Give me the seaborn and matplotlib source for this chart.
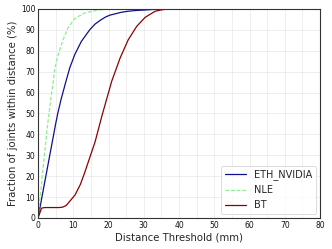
import matplotlib
matplotlib.use("Agg")
import matplotlib.pyplot as plt
import seaborn as sns
import pandas as pd
from matplotlib.ticker import MultipleLocator

eth_x = [0, 1, 2, 3, 4, 5, 5.6, 6.5, 7.7, 9, 10.4, 12.3, 14.7, 16.2, 17.5, 19, 20.3, 23.6, 25.5, 28, 30.4, 33, 36, 80]
eth_y = [0, 9, 18, 27, 36, 45, 50, 56.5, 64, 71.8, 78.1, 84.5, 90.1, 92.8, 94.4, 96, 97, 98.4, 98.9, 99.3, 99.5, 99.8, 100, 100]

nle_x = [0, 0.5, 1, 1.5, 2, 2.5, 3.1, 3.7, 4.3, 4.7, 5.7, 7.1, 8.5, 10.4, 13.2, 17, 20, 80]
nle_y = [0, 8, 16.5, 25, 33, 41.5, 50, 58, 65, 71, 78.1, 85.3, 90.9, 95.4, 98.1, 99.5, 100, 100]

bt_x = [0, 1, 1.5, 2, 4, 6, 7, 8, 9, 10.5, 12, 13.3, 14.7, 16.2, 18.1, 20.9, 23.3, 25.6, 28, 30.4, 33.2, 35.1, 37, 80]
bt_y = [0, 4.7, 4.9, 5, 5, 5, 5.2, 6, 8, 11, 16, 22, 29, 36.5, 48.7, 65.4, 76.6, 85.3, 91.7, 96, 98.9, 99.6, 100, 100]

series = ["ETH_NVIDIA", "NLE", "BT"]
colors = ["#10108a", "#90ee90", "#8b0000"]

frames = []
for name, xs, ys in [("ETH_NVIDIA", eth_x, eth_y), ("NLE", nle_x, nle_y), ("BT", bt_x, bt_y)]:
    frames.append(pd.DataFrame({"x": xs, "y": ys, "method": name}))
df = pd.concat(frames, ignore_index=True)

sns.set_style("whitegrid")
plt.rcParams['font.family'] = ['DejaVu Sans']

fig = plt.figure(figsize=(3.32, 2.49), dpi=100)
ax = fig.add_axes([0.1145, 0.1245, 0.8495, 0.8395])

sns.lineplot(data=df, x="x", y="y", hue="method", style="method",
             hue_order=series, style_order=series,
             palette=dict(zip(series, colors)),
             dashes={"ETH_NVIDIA": "", "NLE": (3, 1.5), "BT": ""},
             linewidth=0.9, ax=ax, estimator=None, sort=False)

ax.set_xlim(0, 80)
ax.set_ylim(0, 100)
ax.xaxis.set_major_locator(MultipleLocator(10))
ax.xaxis.set_minor_locator(MultipleLocator(5))
ax.yaxis.set_major_locator(MultipleLocator(10))
ax.grid(which="major", color="#ebebeb", linewidth=0.6)
ax.grid(which="minor", axis="x", color="#ebebeb", linewidth=0.6)
ax.tick_params(axis="both", which="both", length=0, labelsize=5.5, pad=2, colors="#111111")
for s in ax.spines.values():
    s.set_color("#333333")
    s.set_linewidth(0.8)

ax.set_xlabel("Distance Threshold (mm)", fontsize=7.3, labelpad=2)
ax.set_ylabel("Fraction of joints within distance (%)", fontsize=7.3, labelpad=2)

leg = ax.legend(loc="lower right", fontsize=7, frameon=True, borderaxespad=0.4,
                handlelength=2.2, labelspacing=0.5)
leg.get_frame().set_edgecolor("#cccccc")
leg.get_frame().set_linewidth(0.6)

fig.savefig("out.png", dpi=100)
